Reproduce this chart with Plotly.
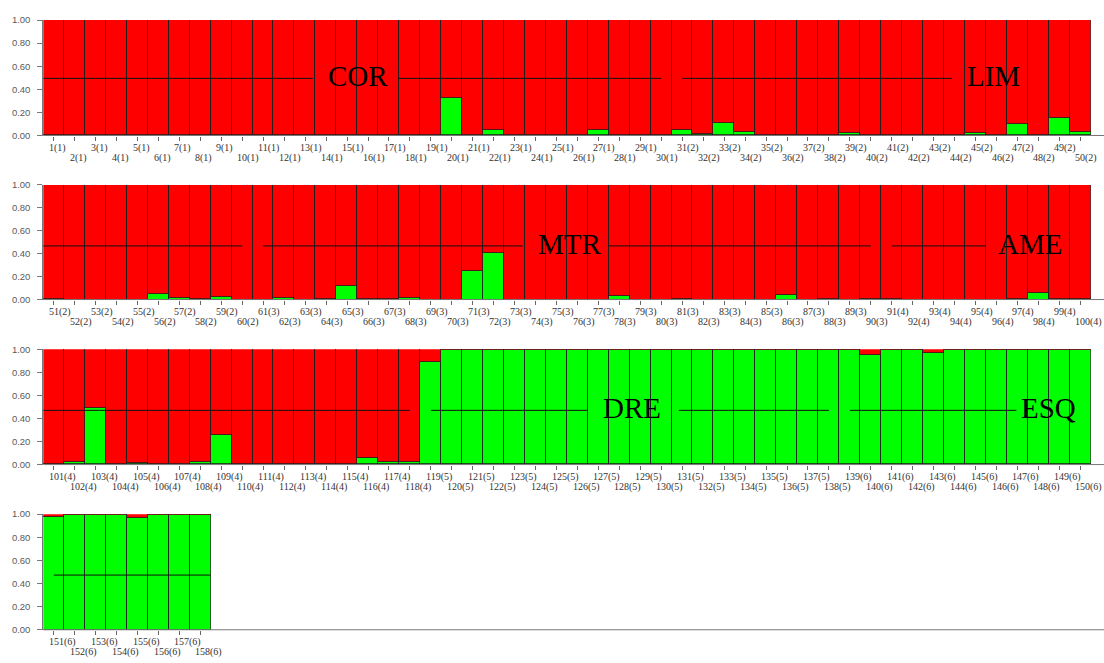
import plotly.graph_objects as go

# ---------------- data ----------------
pop_sizes = [30, 30, 30, 28, 20, 20]          # individuals per population (pop id 1..6)
pop_names = ["COR", "LIM", "MTR", "AME", "DRE", "ESQ"]

# membership coefficient for cluster 2 (green), individuals 1..158
q_green = [
    # 1-50
    0.005, 0.005, 0.005, 0.005, 0.005, 0.005, 0.005, 0.005, 0.0, 0.0,
    0.0, 0.0, 0.0, 0.0, 0.0, 0.0, 0.0, 0.005, 0.005, 0.327,
    0.0, 0.043, 0.0, 0.0, 0.005, 0.005, 0.048, 0.0, 0.0, 0.0,
    0.05, 0.01, 0.108, 0.026, 0.0, 0.0, 0.0, 0.0, 0.017, 0.0,
    0.005, 0.0, 0.0, 0.0, 0.017, 0.0, 0.097, 0.005, 0.153, 0.034,
    # 51-100
    0.005, 0.0, 0.0, 0.0, 0.0, 0.048, 0.011, 0.005, 0.026, 0.0,
    0.0, 0.017, 0.0, 0.005, 0.116, 0.005, 0.005, 0.017, 0.0, 0.0,
    0.253, 0.41, 0.0, 0.0, 0.0, 0.0, 0.0, 0.031, 0.0, 0.0,
    0.005, 0.0, 0.0, 0.0, 0.0, 0.043, 0.0, 0.005, 0.0, 0.005,
    0.005, 0.0, 0.0, 0.0, 0.0, 0.0, 0.005, 0.06, 0.005, 0.005,
    # 101-150
    0.0, 0.023, 0.489, 0.005, 0.014, 0.0, 0.005, 0.023, 0.254, 0.0,
    0.003, 0.003, 0.003, 0.003, 0.003, 0.051, 0.02, 0.02, 0.89, 0.995,
    0.995, 0.99, 0.99, 0.99, 0.995, 0.995, 0.995, 0.995, 0.995, 0.99,
    0.995, 0.995, 0.995, 0.995, 0.995, 0.995, 0.995, 0.995, 0.99, 0.949,
    0.99, 0.995, 0.963, 0.995, 0.995, 0.99, 0.995, 0.995, 0.995, 0.995,
    # 151-158
    0.977, 0.995, 0.995, 0.995, 0.963, 0.995, 0.995, 0.995,
]

# membership coefficient for cluster 1 (red), individuals 1..158
q_red = [
    # 1-50
    0.995, 0.995, 0.995, 0.995, 0.995, 0.995, 0.995, 0.995, 1.0, 1.0,
    1.0, 1.0, 1.0, 1.0, 1.0, 1.0, 1.0, 0.995, 0.995, 0.673,
    1.0, 0.957, 1.0, 1.0, 0.995, 0.995, 0.952, 1.0, 1.0, 1.0,
    0.95, 0.99, 0.892, 0.974, 1.0, 1.0, 1.0, 1.0, 0.983, 1.0,
    0.995, 1.0, 1.0, 1.0, 0.983, 1.0, 0.903, 0.995, 0.847, 0.966,
    # 51-100
    0.995, 1.0, 1.0, 1.0, 1.0, 0.952, 0.989, 0.995, 0.974, 1.0,
    1.0, 0.983, 1.0, 0.995, 0.884, 0.995, 0.995, 0.983, 1.0, 1.0,
    0.747, 0.59, 1.0, 1.0, 1.0, 1.0, 1.0, 0.969, 1.0, 1.0,
    0.995, 1.0, 1.0, 1.0, 1.0, 0.957, 1.0, 0.995, 1.0, 0.995,
    0.995, 1.0, 1.0, 1.0, 1.0, 1.0, 0.995, 0.94, 0.995, 0.995,
    # 101-150
    1.0, 0.977, 0.511, 0.995, 0.986, 1.0, 0.995, 0.977, 0.746, 1.0,
    0.997, 0.997, 0.997, 0.997, 0.997, 0.949, 0.98, 0.98, 0.11, 0.005,
    0.005, 0.01, 0.01, 0.01, 0.005, 0.005, 0.005, 0.005, 0.005, 0.01,
    0.005, 0.005, 0.005, 0.005, 0.005, 0.005, 0.005, 0.005, 0.01, 0.051,
    0.01, 0.005, 0.037, 0.005, 0.005, 0.01, 0.005, 0.005, 0.005, 0.005,
    # 151-158
    0.023, 0.005, 0.005, 0.005, 0.037, 0.005, 0.005, 0.005,
]

# population label placement: line segments in row-local units, label x, line level
label_rows = [
    dict(segments=[(0.5, 13.37), (17.44, 30.0), (31.0, 43.87)],
         labels=[("COR", 15.5), ("LIM", 45.85)], level=0.495),
    dict(segments=[(0.5, 10.0), (11.0, 23.39), (27.5, 40.0), (41.0, 45.5)],
         labels=[("MTR", 25.66), ("AME", 47.6)], level=0.468),
    dict(segments=[(0.5, 18.0), (19.0, 26.5), (30.84, 38.0), (39.0, 46.95)],
         labels=[("DRE", 28.6), ("ESQ", 48.5)], level=0.47),
    dict(segments=[(1.0, 8.5)], labels=[], level=0.473),
]

per_row = 50
y_ticks = [0.0, 0.2, 0.4, 0.6, 0.8, 1.0]

# ---------------- derived ----------------
pop_of = []
for p, n in enumerate(pop_sizes, start=1):
    pop_of += [p] * n
n_ind = len(pop_of)
ind_labels = [f"{i + 1}({pop_of[i]})" for i in range(n_ind)]

W, H = 1104, 663
x_left_px = 43.3
bar_px = 20.95
row_bounds_px = [(14.3, 131.7), (182, 298.5), (349, 466.3), (516.7, 634.3)]

RED = "#ff0000"
GREEN = "#00ff00"
OUTLINE = "rgba(30,30,30,0.85)"

fig = go.Figure()
layout = dict(
    width=W, height=H, margin=dict(l=0, r=0, t=0, b=0),
    paper_bgcolor="white", plot_bgcolor="white",
    barmode="stack", bargap=0, showlegend=False,
)
annotations = []
shapes = []

n_rows = (n_ind + per_row - 1) // per_row
for r in range(n_rows):
    start = r * per_row
    stop = min(start + per_row, n_ind)
    n = stop - start
    xs = list(range(1, n + 1))
    ax = "" if r == 0 else str(r + 1)
    xa, ya = "x" + ax, "y" + ax
    top_px, bot_px = row_bounds_px[r]
    x0 = x_left_px / W
    x1 = (x_left_px + n * bar_px) / W
    layout["xaxis" + ax] = dict(
        domain=[x0, x1], range=[0.5, n + 0.5], anchor=ya,
        showgrid=False, zeroline=False, showline=False,
        tickmode="array", tickvals=xs, showticklabels=False,
        ticks="outside", ticklen=4, tickwidth=1, tickcolor="#666",
        fixedrange=True,
    )
    layout["yaxis" + ax] = dict(
        domain=[1 - bot_px / H, 1 - top_px / H], range=[0, 1.0], anchor=xa,
        showgrid=False, zeroline=False, showline=True, linecolor="#777", linewidth=1,
        tickmode="array", tickvals=y_ticks, tickformat=".2f",
        ticks="outside", ticklen=5, tickcolor="#777", ticklabelstandoff=5,
        tickfont=dict(family="Liberation Sans", size=9.5, color="#5a5a5a"),
        fixedrange=True,
    )
    fig.add_trace(go.Bar(
        x=xs, y=q_green[start:stop], xaxis=xa, yaxis=ya,
        marker=dict(color=GREEN, line=dict(color=OUTLINE, width=0.9)),
        width=1.0,
    ))
    fig.add_trace(go.Bar(
        x=xs, y=q_red[start:stop], xaxis=xa, yaxis=ya,
        marker=dict(color=RED, line=dict(color=OUTLINE, width=0.9)),
        width=1.0,
    ))
    # bottom axis line extends to the right edge of the page
    shapes.append(dict(type="line", xref="paper", yref=ya + " domain",
                       x0=x0, x1=1.0, y0=0, y1=0,
                       line=dict(color="#777", width=1)))
    # individual labels, staggered in two rows
    for k in range(n):
        idx = start + k
        annotations.append(dict(
            x=k + 1, y=0, xref=xa, yref=ya + " domain",
            text=ind_labels[idx], showarrow=False,
            yanchor="middle", xanchor="left", xshift=-7,
            yshift=-12.5 if k % 2 == 0 else -22.5,
            font=dict(family="Liberation Serif", size=10, color="#333"),
        ))
    # population lines and names
    info = label_rows[r]
    for (s0, s1) in info["segments"]:
        shapes.append(dict(type="line", xref=xa, yref=ya,
                           x0=s0, x1=s1, y0=info["level"], y1=info["level"],
                           line=dict(color="#111", width=1)))
    for name, cx in info["labels"]:
        annotations.append(dict(
            x=cx, y=info["level"], xref=xa, yref=ya, text=name,
            showarrow=False, xanchor="center", yanchor="middle", yshift=2,
            font=dict(family="Liberation Serif", size=29, color="black"),
        ))

layout["annotations"] = annotations
layout["shapes"] = shapes
fig.update_layout(**layout)
fig.write_html(
    "out.html",
    config={"displayModeBar": False},
    post_script="document.body.style.margin='0';document.body.style.overflow='hidden';",
)
